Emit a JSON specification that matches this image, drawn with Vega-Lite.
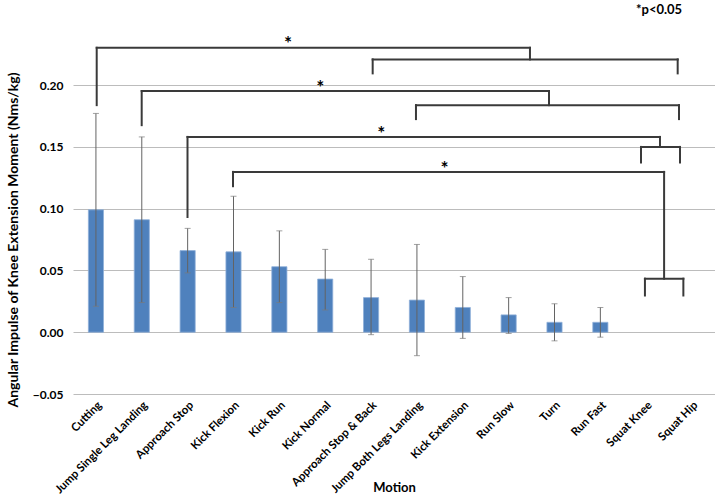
{
  "$schema": "https://vega.github.io/schema/vega-lite/v6.json",
  "width": 642,
  "height": 309,
  "autosize": {"type": "none"},
  "padding": {"left": 73, "top": 85, "right": 0, "bottom": 103},
  "background": "white",
  "config": {
    "view": {"stroke": null},
    "font": "Lato",
    "axis": {"labelFont": "Lato", "titleFont": "Lato"}
  },
  "datasets": {
    "bars": [
      {"Motion": "Cutting", "value": 0.099, "lo": 0.021, "hi": 0.177},
      {"Motion": "Jump Single Leg Landing", "value": 0.091, "lo": 0.024, "hi": 0.158},
      {"Motion": "Approach Stop", "value": 0.066, "lo": 0.048, "hi": 0.084},
      {"Motion": "Kick Flexion", "value": 0.065, "lo": 0.020, "hi": 0.110},
      {"Motion": "Kick Run", "value": 0.053, "lo": 0.024, "hi": 0.082},
      {"Motion": "Kick Normal", "value": 0.043, "lo": 0.018, "hi": 0.067},
      {"Motion": "Approach Stop & Back", "value": 0.028, "lo": -0.002, "hi": 0.059},
      {"Motion": "Jump Both Legs Landing", "value": 0.026, "lo": -0.019, "hi": 0.071},
      {"Motion": "Kick Extension", "value": 0.020, "lo": -0.005, "hi": 0.045},
      {"Motion": "Run Slow", "value": 0.014, "lo": -0.001, "hi": 0.028},
      {"Motion": "Turn", "value": 0.008, "lo": -0.007, "hi": 0.023},
      {"Motion": "Run Fast", "value": 0.008, "lo": -0.004, "hi": 0.020},
      {"Motion": "Squat Knee", "value": null, "lo": null, "hi": null},
      {"Motion": "Squat Hip", "value": null, "lo": null, "hi": null}
    ],
    "brackets": [
      {"x1": 0.517, "x2": 0.517, "y1": 0.1837, "y2": 0.2301},
      {"x1": 0.517, "x2": 9.965, "y1": 0.2301, "y2": 0.2301},
      {"x1": 9.965, "x2": 9.965, "y1": 0.2301, "y2": 0.2207},
      {"x1": 6.535, "x2": 13.186, "y1": 0.2207, "y2": 0.2207},
      {"x1": 6.535, "x2": 6.535, "y1": 0.2207, "y2": 0.2094},
      {"x1": 13.186, "x2": 13.186, "y1": 0.2207, "y2": 0.2094},
      {"x1": 1.498, "x2": 1.498, "y1": 0.1675, "y2": 0.1951},
      {"x1": 1.498, "x2": 10.38, "y1": 0.1951, "y2": 0.1951},
      {"x1": 10.38, "x2": 10.38, "y1": 0.1951, "y2": 0.1837},
      {"x1": 7.479, "x2": 13.215, "y1": 0.1837, "y2": 0.1837},
      {"x1": 7.479, "x2": 7.479, "y1": 0.1837, "y2": 0.1724},
      {"x1": 13.215, "x2": 13.215, "y1": 0.1837, "y2": 0.1724},
      {"x1": 2.497, "x2": 2.497, "y1": 0.0932, "y2": 0.158},
      {"x1": 2.497, "x2": 12.80, "y1": 0.158, "y2": 0.158},
      {"x1": 12.80, "x2": 12.80, "y1": 0.158, "y2": 0.1499},
      {"x1": 12.386, "x2": 13.237, "y1": 0.1499, "y2": 0.1499},
      {"x1": 12.386, "x2": 12.386, "y1": 0.1499, "y2": 0.1373},
      {"x1": 13.237, "x2": 13.237, "y1": 0.1499, "y2": 0.1373},
      {"x1": 3.489, "x2": 3.489, "y1": 0.1181, "y2": 0.1297},
      {"x1": 3.489, "x2": 12.89, "y1": 0.1297, "y2": 0.1297},
      {"x1": 12.89, "x2": 12.89, "y1": 0.1297, "y2": 0.0433},
      {"x1": 12.472, "x2": 13.31, "y1": 0.0433, "y2": 0.0433},
      {"x1": 12.472, "x2": 12.472, "y1": 0.0433, "y2": 0.0297},
      {"x1": 13.31, "x2": 13.31, "y1": 0.0433, "y2": 0.0297}
    ],
    "labels": [
      {"x": 4.69, "y": 0.2335, "text": "*", "size": 19},
      {"x": 5.39, "y": 0.1972, "text": "*", "size": 19},
      {"x": 6.72, "y": 0.1606, "text": "*", "size": 19},
      {"x": 8.10, "y": 0.1323, "text": "*", "size": 19},
      {"x": 12.78, "y": 0.2605, "text": "*p<0.05", "size": 13}
    ]
  },
  "layer": [
    {
      "data": {"name": "bars"},
      "encoding": {
        "x": {
          "field": "Motion",
          "type": "nominal",
          "sort": null,
          "scale": {
            "domain": ["Cutting", "Jump Single Leg Landing", "Approach Stop", "Kick Flexion", "Kick Run", "Kick Normal", "Approach Stop & Back", "Jump Both Legs Landing", "Kick Extension", "Run Slow", "Turn", "Run Fast", "Squat Knee", "Squat Hip"],
            "paddingInner": 0.67,
            "paddingOuter": 0.335
          },
          "axis": {
            "title": "Motion",
            "titleFontSize": 13,
            "titleFontWeight": "bold",
            "titleColor": "#000000",
            "titleY": 93,
            "titleBaseline": "middle",
            "labelAngle": -45,
            "labelFontSize": 11.5,
            "labelFontWeight": "bold",
            "labelColor": "#000000",
            "labelPadding": 5,
            "labelOverlap": false,
            "labelLimit": 300,
            "domain": false,
            "ticks": false,
            "tickSize": 0,
            "grid": false
          }
        }
      },
      "layer": [
        {
          "mark": {"type": "bar", "color": "#4f81bd", "stroke": "#8fb0d9", "strokeWidth": 0.8},
          "encoding": {
            "y": {
              "field": "value",
              "type": "quantitative",
              "scale": {"domain": [-0.05, 0.2], "nice": false, "zero": false},
              "axis": {
                "title": "Angular Impulse of Knee Extension Moment (Nms/kg)",
                "titleFontSize": 14,
                "titleFontWeight": "bold",
                "titleColor": "#000000",
                "titlePadding": 12,
                "values": [-0.05, 0, 0.05, 0.1, 0.15, 0.2],
                "format": ".2f",
                "labelFontSize": 12,
                "labelFontWeight": "bold",
                "labelColor": "#000000",
                "labelPadding": 10,
                "domain": false,
                "ticks": false,
                "tickSize": 0,
                "grid": true,
                "gridColor": "#bcbcbc",
                "gridWidth": 1
              }
            }
          }
        },
        {
          "mark": {"type": "rule", "color": "#636363", "strokeWidth": 1},
          "encoding": {
            "y": {"field": "lo", "type": "quantitative", "scale": {"domain": [-0.05, 0.2], "nice": false, "zero": false}},
            "y2": {"field": "hi"}
          }
        },
        {
          "mark": {"type": "tick", "color": "#7a7a7a", "size": 6, "thickness": 1},
          "encoding": {
            "y": {"field": "hi", "type": "quantitative", "scale": {"domain": [-0.05, 0.2], "nice": false, "zero": false}}
          }
        },
        {
          "mark": {"type": "tick", "color": "#7a7a7a", "size": 6, "thickness": 1},
          "encoding": {
            "y": {"field": "lo", "type": "quantitative", "scale": {"domain": [-0.05, 0.2], "nice": false, "zero": false}}
          }
        }
      ]
    },
    {
      "layer": [
        {
          "data": {"name": "brackets"},
          "mark": {"type": "rule", "color": "#3a3a3a", "strokeWidth": 2, "strokeCap": "square"},
          "encoding": {
            "x": {"field": "x1", "type": "quantitative", "scale": {"domain": [0, 14], "nice": false, "zero": false}, "axis": null},
            "x2": {"field": "x2"},
            "y": {"field": "y1", "type": "quantitative", "scale": {"domain": [-0.05, 0.2], "nice": false, "zero": false}},
            "y2": {"field": "y2"}
          }
        },
        {
          "data": {"name": "labels"},
          "mark": {"type": "text", "font": "Lato", "fontWeight": "bold", "color": "#000000", "baseline": "middle", "align": "center"},
          "encoding": {
            "x": {"field": "x", "type": "quantitative", "scale": {"domain": [0, 14], "nice": false, "zero": false}, "axis": null},
            "y": {"field": "y", "type": "quantitative", "scale": {"domain": [-0.05, 0.2], "nice": false, "zero": false}},
            "text": {"field": "text"},
            "size": {"field": "size", "type": "quantitative", "scale": null}
          }
        }
      ]
    }
  ],
  "resolve": {"scale": {"x": "independent"}}
}
